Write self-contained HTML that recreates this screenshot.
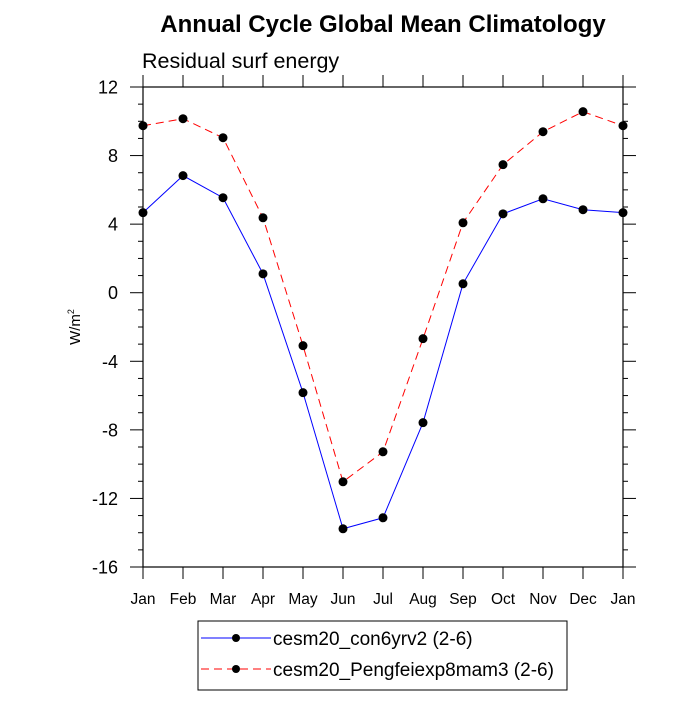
<!DOCTYPE html>
<html><head><meta charset="utf-8"><style>
body{margin:0;background:#fff}
svg text{font-family:"Liberation Sans",sans-serif}
</style></head><body>
<svg width="700" height="700" xmlns="http://www.w3.org/2000/svg">
<text x="383" y="32" text-anchor="middle" font-size="24" font-weight="bold">Annual Cycle Global Mean Climatology</text>
<text x="142" y="68" font-size="21.5">Residual surf energy</text>
<text transform="translate(80,327) rotate(-90)" text-anchor="middle" font-size="15">W/m<tspan font-size="9" dy="-6">2</tspan></text>
<g id="axes"></g>
<g id="series"></g>
<g>
<rect x="198" y="621" width="369" height="69" fill="none" stroke="#000" stroke-width="1"/>
<line x1="201" y1="638" x2="271" y2="638" stroke="#00f"/>
<circle cx="236" cy="638" r="4" fill="#000"/>
<text x="273" y="645" font-size="19">cesm20_con6yrv2 (2-6)</text>
<line x1="201" y1="669" x2="271" y2="669" stroke="#f00" stroke-dasharray="8,5"/>
<circle cx="236" cy="669" r="4" fill="#000"/>
<text x="273" y="676" font-size="19">cesm20_Pengfeiexp8mam3 (2-6)</text>
</g>
</svg>
<script>
const months=["Jan","Feb","Mar","Apr","May","Jun","Jul","Aug","Sep","Oct","Nov","Dec","Jan"];
const blueVals=[4.67,6.83,5.54,1.1,-5.83,-13.77,-13.13,-7.58,0.52,4.6,5.48,4.84,4.67];
const redVals=[9.74,10.15,9.04,4.37,-3.09,-11.03,-9.28,-2.68,4.08,7.47,9.39,10.56,9.74];
const yTicks=[12,8,4,0,-4,-8,-12,-16];
const L=143,R=623,T=87,B=567,ymin=-16,ymax=12;
const xs=i=>L+(R-L)*i/(months.length-1);
const ys=v=>B-(v-ymin)/(ymax-ymin)*(B-T);
const NS="http://www.w3.org/2000/svg";
function mk(t,a,p){const e=document.createElementNS(NS,t);for(const k in a)e.setAttribute(k,a[k]);p.appendChild(e);return e;}
const ax=document.getElementById('axes');
const fr=mk('rect',{x:L,y:T,width:R-L,height:B-T,fill:'none',stroke:'#000','stroke-width':1.2},ax);


for(let v=ymin;v<=ymax;v++){
 const y=ys(v),major=(v%4===0),len=major?13:5;
 mk('line',{x1:L-len,y1:y,x2:L,y2:y,stroke:'#000'},ax);
 mk('line',{x1:R,y1:y,x2:R+len,y2:y,stroke:'#000'},ax);
}
yTicks.forEach(v=>{
 const t=mk('text',{x:L-25,y:ys(v)+6.5,'text-anchor':'end','font-size':18},ax);
 t.textContent=v;
 
 
});
months.forEach((m,i)=>{
 const x=xs(i);
 mk('line',{x1:x,y1:B,x2:x,y2:B+12,stroke:'#000'},ax);
 mk('line',{x1:x,y1:T-12,x2:x,y2:T,stroke:'#000'},ax);
 const t=mk('text',{x:x,y:B+37,'text-anchor':'middle','font-size':15.5},ax);
 t.textContent=m;
 
 
});
const sg=document.getElementById('series');
function draw(vals,color,dash,name){
 const g=mk('g',{},sg);
 
 
 const a={points:vals.map((v,i)=>xs(i)+','+ys(v)).join(' '),fill:'none',stroke:color,'stroke-width':1};
 if(dash)a['stroke-dasharray']=dash;
 mk('polyline',a,g);
 vals.forEach((v,i)=>{
  const c=mk('circle',{cx:xs(i),cy:ys(v),r:4.5,fill:'#000'},g);
  
  
 });
}
draw(blueVals,'#00f',null,'series-cesm20-con6yrv2');
draw(redVals,'#f00','8,5','series-cesm20-pengfeiexp8mam3');
</script>
</body></html>
